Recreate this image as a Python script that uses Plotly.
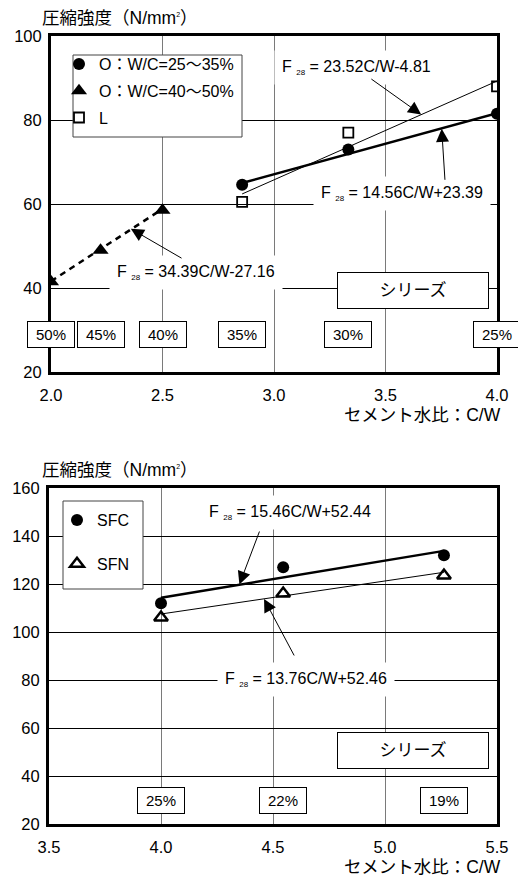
import plotly.graph_objects as go

FONT = "Liberation Sans, Arial, Noto Sans CJK JP, sans-serif"
W, H = 518, 879

# ---- upper chart: series O (two W/C ranges) and series L ----
cw_o_low = [1 / 0.35, 1 / 0.30, 1 / 0.25]
fc_o_low = [64.6, 73.0, 81.5]
cw_o_high = [1 / 0.50, 1 / 0.45, 1 / 0.40]
fc_o_high = [41.5, 49.0, 58.5]
cw_l = [1 / 0.35, 1 / 0.30, 1 / 0.25]
fc_l = [60.5, 77.0, 88.0]
fit_o_low = (14.56, 23.39)
fit_o_high = (34.39, -27.16)
fit_l = (23.52, -4.81)
wc_top = [50, 45, 40, 35, 30, 25]

# ---- lower chart: SFC and SFN ----
cw_sf = [1 / 0.25, 1 / 0.22, 1 / 0.19]
fc_sfc = [112.0, 127.0, 132.0]
fc_sfn = [106.0, 116.0, 123.5]
fit_sfc = (15.46, 52.44)
fit_sfn = (13.76, 52.46)
wc_bottom = [25, 22, 19]


def px(x):
    return x / W


def py(y):
    return 1 - y / H


def fit_line(coef, xs):
    a, b = coef
    x0, x1 = min(xs), max(xs)
    return [x0, x1], [a * x0 + b, a * x1 + b]


def eq_text(coef):
    a, b = coef
    sign = "+" if b >= 0 else "-"
    return (f"F <sub><span style='font-size:8px'>28</span></sub> = "
            f"{a:.2f}C/W{sign}{abs(b):.2f}")


fig = go.Figure()

# regression lines (upper)
lx, ly = fit_line(fit_o_low, cw_o_low)
fig.add_trace(go.Scatter(x=lx, y=ly, mode="lines", line=dict(color="black", width=2.5),
                         showlegend=False, xaxis="x", yaxis="y"))
lx, ly = fit_line(fit_l, cw_l)
fig.add_trace(go.Scatter(x=lx, y=ly, mode="lines", line=dict(color="black", width=1),
                         showlegend=False, xaxis="x", yaxis="y"))
lx, ly = fit_line(fit_o_high, cw_o_high)
fig.add_trace(go.Scatter(x=lx, y=ly, mode="lines",
                         line=dict(color="black", width=2.5, dash="6px,5px"),
                         showlegend=False, xaxis="x", yaxis="y"))

# measured points (upper)
fig.add_trace(go.Scatter(x=cw_o_low, y=fc_o_low, mode="markers", name="O：W/C=25～35%",
                         marker=dict(symbol="circle", size=12, color="black"),
                         legendgroup="a", xaxis="x", yaxis="y"))
fig.add_trace(go.Scatter(x=cw_o_high, y=fc_o_high, mode="markers", name="O：W/C=40～50%",
                         marker=dict(symbol="triangle-up", size=14, color="black"),
                         legendgroup="b", xaxis="x", yaxis="y"))
fig.add_trace(go.Scatter(x=cw_l, y=fc_l, mode="markers", name="L",
                         marker=dict(symbol="square-open", size=10, color="black",
                                     line=dict(width=1.8, color="black")),
                         legendgroup="c", xaxis="x", yaxis="y"))

# regression lines (lower)
lx, ly = fit_line(fit_sfc, cw_sf)
fig.add_trace(go.Scatter(x=lx, y=ly, mode="lines", line=dict(color="black", width=2.5),
                         showlegend=False, xaxis="x2", yaxis="y2"))
lx, ly = fit_line(fit_sfn, cw_sf)
fig.add_trace(go.Scatter(x=lx, y=ly, mode="lines", line=dict(color="black", width=1),
                         showlegend=False, xaxis="x2", yaxis="y2"))

# measured points (lower)
fig.add_trace(go.Scatter(x=cw_sf, y=fc_sfc, mode="markers", name="SFC",
                         marker=dict(symbol="circle", size=12, color="black"),
                         legend="legend2", legendgroup="d", xaxis="x2", yaxis="y2"))
fig.add_trace(go.Scatter(x=cw_sf, y=fc_sfn, mode="markers", name="SFN",
                         marker=dict(symbol="triangle-up-open", size=12, color="black",
                                     line=dict(width=2.5, color="black")),
                         legend="legend2", legendgroup="e", xaxis="x2", yaxis="y2"))

annotations = []

# equation labels with leader arrows
upper_eqs = [
    (fit_l, (3.368, 92.6), (3.43, 90.0), (3.66, 81.3)),
    (fit_o_low, (3.574, 62.6), (3.767, 65.4), (3.752, 77.9)),
    (fit_o_high, (2.650, 43.8), (2.592, 46.9), (2.358, 54.1)),
]
lower_eqs = [
    (fit_sfc, (4.576, 149.6), (4.442, 142.5), (4.35, 119.8)),
    (fit_sfn, (4.647, 80.4), (4.598, 89.6), (4.46, 113.8)),
]
for (xa, ya), eqs in ((("x", "y"), upper_eqs), (("x2", "y2"), lower_eqs)):
    for coef, (tx, ty), tail, head in eqs:
        annotations.append(dict(x=tx, y=ty, xref=xa, yref=ya, text=eq_text(coef),
                                showarrow=False, bgcolor="white", borderpad=7,
                                font=dict(size=16, color="black", family=FONT)))
        annotations.append(dict(x=head[0], y=head[1], xref=xa, yref=ya,
                                ax=tail[0], ay=tail[1], axref=xa, ayref=ya,
                                text="", showarrow=True, arrowhead=2, arrowsize=2.6,
                                arrowwidth=1, arrowcolor="black"))

# W/C percentage tags
for wc in wc_top:
    annotations.append(dict(x=100 / wc, y=29, xref="x", yref="y", text=f"{wc}%",
                            showarrow=False, bgcolor="white", bordercolor="black",
                            borderwidth=1, width=44, height=23,
                            font=dict(size=15, color="black", family=FONT)))
for wc in wc_bottom:
    annotations.append(dict(x=100 / wc, y=30, xref="x2", yref="y2", text=f"{wc}%",
                            showarrow=False, bgcolor="white", bordercolor="black",
                            borderwidth=1, width=44, height=23,
                            font=dict(size=15, color="black", family=FONT)))

# series tags
for xr, yr, x, y in [("x", "y", 3.623, 39.5), ("x2", "y2", 5.125, 50.8)]:
    annotations.append(dict(x=x, y=y, xref=xr, yref=yr, text="シリーズ",
                            showarrow=False, bgcolor="white", bordercolor="black",
                            borderwidth=1, width=148, height=33,
                            font=dict(size=17, color="black", family=FONT)))

# axis titles
for ytop in (18, 470):
    annotations.append(dict(x=px(40), y=py(ytop), xref="paper", yref="paper",
                            xanchor="left", yanchor="middle", showarrow=False,
                            text="圧縮強度（N/mm<sup><span style='font-size:7px'>2</span></sup>）",
                            font=dict(size=17.5, color="black", family=FONT)))
for ybot in (415, 867):
    annotations.append(dict(x=px(503), y=py(ybot), xref="paper", yref="paper",
                            xanchor="right", yanchor="middle", showarrow=False,
                            text="セメント水比：C/W",
                            font=dict(size=17.5, color="black", family=FONT)))

# legend frames
shapes = [
    dict(type="rect", xref="paper", yref="paper", x0=px(73), x1=px(242),
         y0=py(137), y1=py(55), line=dict(color="#444", width=1),
         fillcolor="white", layer="above"),
    dict(type="rect", xref="paper", yref="paper", x0=px(63), x1=px(143),
         y0=py(589), y1=py(501), line=dict(color="#444", width=1),
         fillcolor="white", layer="above"),
]

axis_common = dict(showline=True, linewidth=3, linecolor="black", mirror=True,
                   ticks="", zeroline=False, showgrid=True, automargin=False,
                   tickfont=dict(size=16.5, color="black", family=FONT))
xgrid = dict(gridcolor="#7a7a7a", gridwidth=1, ticklabelstandoff=6)
ygrid = dict(gridcolor="black", gridwidth=1.3, ticklabelstandoff=3)

fig.update_layout(
    template="none",
    width=W, height=H, margin=dict(l=0, r=0, t=0, b=0, autoexpand=False),
    paper_bgcolor="white", plot_bgcolor="white",
    font=dict(family=FONT, color="black", size=15),
    xaxis=dict(domain=[px(51), px(497)], anchor="y", range=[2.0, 4.0], dtick=0.5,
               tickformat=".1f", **axis_common, **xgrid),
    yaxis=dict(domain=[py(372), py(36)], anchor="x", range=[20, 100], dtick=20,
               **axis_common, **ygrid),
    xaxis2=dict(domain=[px(49), px(497)], anchor="y2", range=[3.5, 5.5], dtick=0.5,
                tickformat=".1f", **axis_common, **xgrid),
    yaxis2=dict(domain=[py(824), py(488)], anchor="x2", range=[20, 160], dtick=20,
                **axis_common, **ygrid),
    legend=dict(x=px(59), y=py(47), xanchor="left", yanchor="top",
                bgcolor="rgba(0,0,0,0)", borderwidth=0, itemwidth=30,
                traceorder="grouped", tracegroupgap=3,
                font=dict(size=16, color="black", family=FONT)),
    legend2=dict(x=px(57), y=py(503), xanchor="left", yanchor="top",
                 bgcolor="rgba(0,0,0,0)", borderwidth=0, itemwidth=30,
                 traceorder="grouped", tracegroupgap=20,
                 font=dict(size=16, color="black", family=FONT)),
    annotations=annotations,
    shapes=shapes,
    showlegend=True,
)

fig.write_html("out.html")
